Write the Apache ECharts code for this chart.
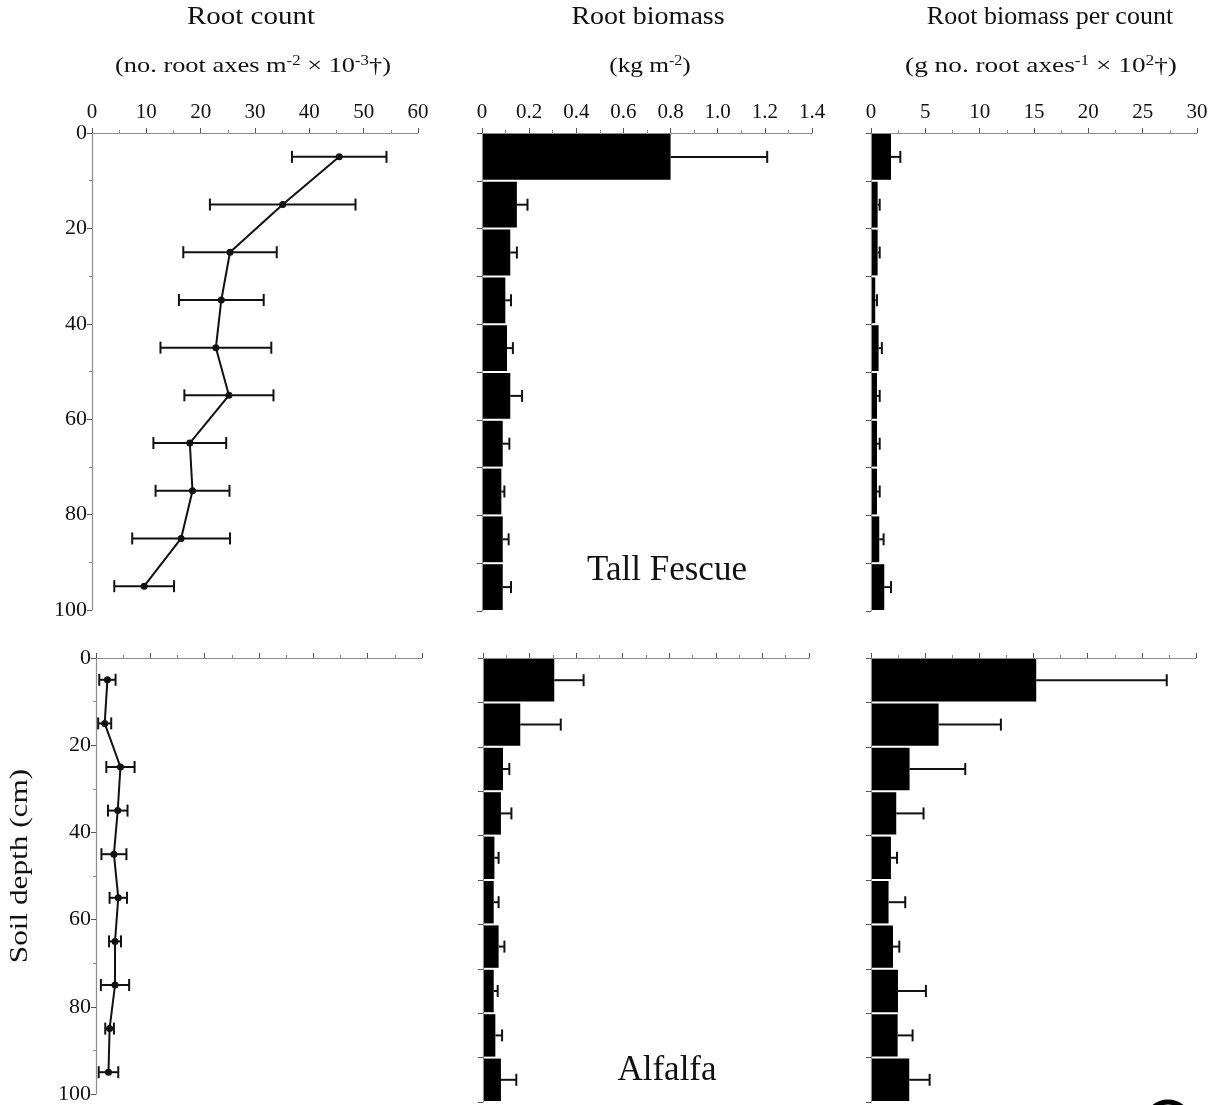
<!DOCTYPE html>
<html><head><meta charset="utf-8">
<script src="https://cdn.jsdelivr.net/npm/echarts@6/dist/echarts.min.js"></script>
<style>html,body{margin:0;padding:0;background:#fff}#c{width:1216px;height:1105px}</style>
</head><body><div id="c"></div>
<script>
// ---------- data ----------
const depthMid = [5, 15, 25, 35, 45, 55, 65, 75, 85, 95];
const binWidth = 10;
const fescueCount      = [45.5, 35.1, 25.4, 23.8, 22.8, 25.2, 18.0, 18.5, 16.4, 9.6];
const fescueCountErr   = [8.7, 13.4, 8.6, 7.8, 10.2, 8.2, 6.7, 6.8, 9.0, 5.5];
const fescueBiomass    = [0.80, 0.148, 0.12, 0.099, 0.106, 0.12, 0.088, 0.082, 0.088, 0.088];
const fescueBiomassErr = [0.41, 0.045, 0.028, 0.024, 0.025, 0.05, 0.028, 0.013, 0.025, 0.035];
const fescuePerCount    = [1.84, 0.61, 0.61, 0.39, 0.70, 0.55, 0.55, 0.55, 0.76, 1.22];
const fescuePerCountErr = [0.86, 0.19, 0.19, 0.16, 0.30, 0.25, 0.25, 0.25, 0.40, 0.62];
const alfalfaCount      = [2.1, 1.6, 4.5, 4.0, 3.3, 4.1, 3.5, 3.5, 2.5, 2.3];
const alfalfaCountErr   = [1.5, 1.2, 2.6, 1.8, 2.3, 1.6, 1.1, 2.6, 0.8, 1.8];
const alfalfaBiomass    = [0.306, 0.160, 0.086, 0.077, 0.049, 0.046, 0.067, 0.046, 0.053, 0.077];
const alfalfaBiomassErr = [0.126, 0.174, 0.027, 0.045, 0.018, 0.021, 0.025, 0.017, 0.029, 0.066];
const alfalfaPerCount    = [15.25, 6.24, 3.56, 2.33, 1.84, 1.62, 2.03, 2.49, 2.46, 3.53];
const alfalfaPerCountErr = [12.05, 5.75, 5.14, 2.52, 0.56, 1.54, 0.58, 2.58, 1.38, 1.88];

const xMax = [60, 1.4, 30];
const xInterval = [10, 0.2, 5];
const depthMax = 100;

// ---------- chart ----------
const FONT = '"Liberation Serif", "Times New Roman", serif';
const INK = '#111';
const chart = echarts.init(document.getElementById('c'));

const grids = [
  {left: 92,  top: 133, width: 326, height: 477},
  {left: 482, top: 133, width: 330, height: 478},
  {left: 871, top: 133, width: 326, height: 478},
  {left: 96,  top: 658, width: 326, height: 444},
  {left: 483, top: 658, width: 326, height: 444},
  {left: 871, top: 658, width: 325, height: 444}
];

const xAxes = grids.map((g, i) => {
  const col = i % 3, row = Math.floor(i / 3);
  return {
    type: 'value', gridIndex: i, position: 'top', min: 0, max: xMax[col], interval: xInterval[col],
    axisLine: {show: true, lineStyle: {color: '#8c8c8c', width: 1.2}},
    axisTick: {show: true, length: 5, lineStyle: {color: '#555', width: 1}},
    minorTick: {show: true, splitNumber: 2, length: 3, lineStyle: {color: '#888'}},
    splitLine: {show: false},
    axisLabel: {
      show: row === 0, fontFamily: FONT, fontSize: 21, color: INK, margin: 10,
      formatter: v => col === 1 ? (v === 0 ? '0' : v.toFixed(1)) : String(v)
    }
  };
});

const yAxes = grids.map((g, i) => {
  const col = i % 3;
  return {
    type: 'value', gridIndex: i, inverse: true, min: 0, max: depthMax,
    interval: col === 0 ? 20 : 10,
    axisLine: {show: true, lineStyle: {color: '#8c8c8c', width: 1.2}},
    axisTick: {show: true, length: 5, lineStyle: {color: '#555', width: 1}},
    minorTick: {show: col === 0, splitNumber: 2, length: 3, lineStyle: {color: '#888'}},
    splitLine: {show: false},
    axisLabel: {show: col === 0, fontFamily: FONT, fontSize: 22, color: INK, margin: 5}
  };
});

function lineSeries(idx, vals) {
  return {
    type: 'line', xAxisIndex: idx, yAxisIndex: idx,
    data: vals.map((v, i) => [v, depthMid[i]]),
    symbol: 'circle', symbolSize: 7, itemStyle: {color: INK},
    lineStyle: {color: INK, width: 2}, z: 4, animation: false
  };
}

function symErrSeries(idx, vals, errs) {
  return {
    type: 'custom', xAxisIndex: idx, yAxisIndex: idx,
    data: vals.map((v, i) => [v, depthMid[i], errs[i]]),
    encode: {x: 0, y: 1},
    renderItem: (params, api) => {
      const v = api.value(0), d = api.value(1), e = api.value(2);
      const a = api.coord([v - e, d]), b = api.coord([v + e, d]);
      const c = 6, st = {stroke: INK, lineWidth: 2};
      return {type: 'group', children: [
        {type: 'line', shape: {x1: a[0], y1: a[1], x2: b[0], y2: b[1]}, style: st},
        {type: 'line', shape: {x1: a[0], y1: a[1] - c, x2: a[0], y2: a[1] + c}, style: st},
        {type: 'line', shape: {x1: b[0], y1: b[1] - c, x2: b[0], y2: b[1] + c}, style: st}
      ]};
    },
    z: 3, animation: false
  };
}

function barErrSeries(idx, vals, errs) {
  return {
    type: 'custom', xAxisIndex: idx, yAxisIndex: idx,
    data: vals.map((v, i) => [v, depthMid[i], errs[i]]),
    encode: {x: 0, y: 1},
    renderItem: (params, api) => {
      const v = api.value(0), d = api.value(1), e = api.value(2);
      const p0 = api.coord([0, d - binWidth / 2]);
      const p1 = api.coord([v, d + binWidth / 2]);
      const pe = api.coord([v + e, d]);
      const c = 6, st = {stroke: INK, lineWidth: 2};
      return {type: 'group', children: [
        {type: 'rect', shape: {x: p0[0] + 1, y: p0[1] + 1, width: p1[0] - p0[0] - 1, height: p1[1] - p0[1] - 2},
         style: {fill: '#000'}},
        {type: 'line', shape: {x1: p1[0], y1: pe[1], x2: pe[0], y2: pe[1]}, style: st},
        {type: 'line', shape: {x1: pe[0], y1: pe[1] - c, x2: pe[0], y2: pe[1] + c}, style: st}
      ]};
    },
    z: 3, animation: false
  };
}

const series = [
  symErrSeries(0, fescueCount, fescueCountErr),
  lineSeries(0, fescueCount),
  barErrSeries(1, fescueBiomass, fescueBiomassErr),
  barErrSeries(2, fescuePerCount, fescuePerCountErr),
  symErrSeries(3, alfalfaCount, alfalfaCountErr),
  lineSeries(3, alfalfaCount),
  barErrSeries(4, alfalfaBiomass, alfalfaBiomassErr),
  barErrSeries(5, alfalfaPerCount, alfalfaPerCountErr)
];

const sup = {fontFamily: FONT, fontSize: 14, color: INK, verticalAlign: 'top', lineHeight: 24};
const base = {fontFamily: FONT, fontSize: 22, color: INK, lineHeight: 24};
function txt(x, y, text, size, sx) {
  return {type: 'text', x: x, y: y, scaleX: sx || 1,
    style: {text: text, fontFamily: FONT, fontSize: size, fill: INK, align: 'center', verticalAlign: 'middle'}};
}
function richTxt(x, y, text, sx) {
  return {type: 'text', x: x, y: y, scaleX: sx || 1,
    style: {text: text, align: 'center', verticalAlign: 'middle', rich: {a: base, s: sup}, fontFamily: FONT, fontSize: 22, fill: INK}};
}

const graphic = [
  txt(251, 17, 'Root count', 25, 1.16),
  txt(648, 17, 'Root biomass', 25, 1.12),
  txt(1050, 17, 'Root biomass per count', 25, 1.04),
  richTxt(253, 66, '{a|(no. root axes m}{s|-2}{a| × 10}{s|-3}{a|†)}', 1.2),
  richTxt(650, 66, '{a|(kg m}{s|-2}{a|)}', 1.15),
  richTxt(1041, 66, '{a|(g no. root axes}{s|-1}{a| × 10}{s|2}{a|†)}', 1.24),
  txt(667, 571, 'Tall Fescue', 35, 1.0),
  txt(667, 1071, 'Alfalfa', 35, 1.0),
  {type: 'text', x: 20, y: 866, rotation: Math.PI / 2, scaleX: 1.25,
   style: {text: 'Soil depth (cm)', fontFamily: FONT, fontSize: 25, fill: INK, align: 'center', verticalAlign: 'middle'}},
  {type: 'circle', shape: {cx: 1168, cy: 1124, r: 22}, style: {fill: 'none', stroke: '#000', lineWidth: 5}}
];

chart.setOption({
  animation: false,
  backgroundColor: '#fff',
  grid: grids,
  xAxis: xAxes,
  yAxis: yAxes,
  series: series,
  graphic: graphic
});
</script>
</body></html>
